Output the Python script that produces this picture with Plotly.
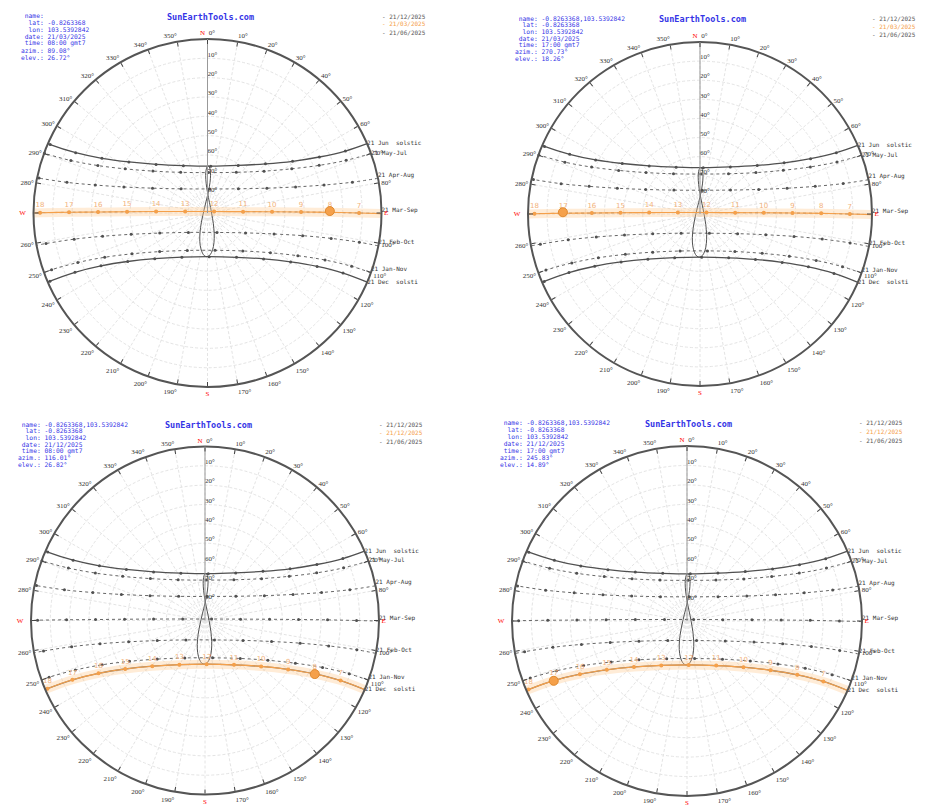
import plotly.graph_objects as go

# ---------------- data (azimuth °, elevation °) ----------------
HOURS = [7, 8, 9, 10, 11, 12, 13, 14, 15, 16, 17, 18]

jun_rise, jun_set = 66.5, 293.5
jun_az = [65.8, 63.4, 58.7, 49.7, 32.8, 4.0, 333.0, 313.4, 303.0, 297.4, 294.6, 293.5]
jun_el = [11.8, 25.3, 38.5, 50.7, 60.7, 65.7, 62.5, 53.4, 41.5, 28.5, 15.0, 1.3]

may_rise, may_set = 70.0, 290.1
may_az = [69.2, 66.9, 62.3, 53.5, 35.3, 1.4, 326.6, 307.5, 298.2, 293.4, 291.0, 290.1]
may_el = [13.3, 27.2, 40.8, 53.6, 64.2, 69.1, 64.8, 54.4, 41.7, 28.2, 14.3, 0.2]

apr_rise, apr_set = 78.5, 281.7
apr_az = [78.0, 76.5, 73.5, 67.3, 51.9, 5.3, 312.5, 294.3, 287.3, 284.0, 282.3, 281.7]
apr_el = [13.4, 28.0, 42.5, 56.7, 69.7, 77.5, 71.5, 58.8, 44.7, 30.2, 15.6, 1.0]

mar_rise, mar_set = 90.2, 270.0
mar_az = [90.0, 89.7, 89.4, 88.9, 87.8, 77.5, 273.8, 271.6, 270.9, 270.5, 270.3, 270.1]
mar_el = [11.6, 26.6, 41.6, 56.6, 71.6, 86.5, 78.4, 63.4, 48.4, 33.4, 18.4, 3.4]

feb_rise, feb_set = 100.9, 259.3
feb_az = [100.9, 101.6, 103.4, 107.5, 117.6, 154.0, 224.6, 247.2, 254.4, 257.5, 258.9, 259.3]
feb_el = [10.0, 24.7, 39.4, 53.9, 67.8, 78.8, 75.9, 63.2, 49.0, 34.4, 19.7, 5.0]

jan_rise, jan_set = 110.1, 250.0
jan_az = [110.3, 111.8, 115.3, 122.3, 137.1, 168.5, 208.3, 231.1, 241.6, 246.7, 249.1, 250.0]
jan_el = [10.5, 24.5, 38.3, 51.5, 63.2, 70.3, 68.0, 58.2, 45.6, 32.1, 18.2, 4.2]

dec_rise, dec_set = 113.4, 246.6
dec_az = [113.9, 116.0, 120.5, 129.3, 146.8, 177.8, 210.1, 229.1, 238.7, 243.6, 245.9, 246.6]
dec_el = [13.3, 26.9, 40.1, 52.5, 62.6, 67.4, 63.6, 53.9, 41.7, 28.5, 14.9, 1.2]

# analemma (mean local noon, weekly)
ana_az = [178.2, 176.3, 174.3, 172.2, 170.0, 167.7, 165.2, 162.1, 158.0, 151.3, 136.9, 90.8, 29.9, 10.5,
          3.4, 360.0, 358.2, 357.4, 357.1, 357.2, 357.5, 358.1, 358.8, 359.5, 0.4, 1.2, 2.1, 2.9, 3.6,
          4.2, 4.6, 4.8, 4.7, 4.0, 2.5, 359.5, 353.5, 338.4, 288.9, 232.0, 213.6, 205.8, 201.2, 197.9,
          195.2, 192.8, 190.5, 188.4, 186.4, 184.4, 182.4, 180.5, 178.5]
ana_el = [67.8, 68.4, 69.4, 70.8, 72.4, 74.3, 76.4, 78.7, 81.2, 83.7, 86.2, 87.9, 86.8, 84.5, 81.9,
          79.3, 76.9, 74.6, 72.6, 70.7, 69.1, 67.8, 66.8, 66.1, 65.8, 65.7, 66.0, 66.7, 67.6, 68.9,
          70.4, 72.2, 74.2, 76.4, 78.8, 81.3, 83.9, 86.3, 87.9, 86.7, 84.3, 81.8, 79.3, 77.0, 74.8,
          72.9, 71.2, 69.8, 68.7, 67.9, 67.5, 67.4, 67.7]

elev_ticks = [10, 20, 30, 40, 50, 60, 70, 80]

path_names = ["jun", "may", "apr", "mar", "feb", "jan", "dec"]
path_labels = ["21 Jun  solstic", "21 May-Jul", "21 Apr-Aug", "21 Mar-Sep", "21 Feb-Oct",
               "21 Jan-Nov", "21 Dec  solsti"]
path_data = {
    "jun": (jun_rise, jun_set, jun_az, jun_el), "may": (may_rise, may_set, may_az, may_el),
    "apr": (apr_rise, apr_set, apr_az, apr_el), "mar": (mar_rise, mar_set, mar_az, mar_el),
    "feb": (feb_rise, feb_set, feb_az, feb_el), "jan": (jan_rise, jan_set, jan_az, jan_el),
    "dec": (dec_rise, dec_set, dec_az, dec_el),
}

# the four views: highlighted date, current sun position, info text
panel_dates = ["21/03/2025", "21/03/2025", "21/12/2025", "21/12/2025"]
panel_paths = ["mar", "mar", "dec", "dec"]
panel_names = ["", "-0.8263368,103.5392842", "-0.8263368,103.5392842", "-0.8263368,103.5392842"]
panel_times = ["08:00 gmt7", "17:00 gmt7", "08:00 gmt7", "17:00 gmt7"]
panel_azim = [89.08, 270.73, 116.01, 245.83]
panel_elev = [26.72, 18.26, 26.82, 14.89]
legend_dates = [["21/12/2025", "21/03/2025", "21/06/2025"], ["21/12/2025", "21/03/2025", "21/06/2025"],
                ["21/12/2025", "21/12/2025", "21/06/2025"], ["21/12/2025", "21/12/2025", "21/06/2025"]]
LAT_TXT, LON_TXT = "-0.8263368", "103.5392842"

# ---------------- layout geometry (window pixels) ----------------
OFF = 8                       # page body margin
FW, FH = 930 - OFF, 807 - OFF
geo = [(207.5, 213, 174), (700, 214, 172), (205, 620.5, 174), (687, 621, 175)]
info_pos = [(19, 15, 7.0), (513, 18, 6.7), (16, 424, 6.8), (498, 423, 7.0)]
title_pos = [(210, 17), (702, 19), (208, 425), (688, 424)]
legend_pos = [(380, 16, 8), (870, 18, 8.5), (377, 424, 8.5), (857, 423, 8.5)]
label_pos = ["middle right", "middle right", "top right", "top right", "top right", "top right", "middle right"]

DARK = "#505050"
DOT = "#666666"
ORANGE = "#f5a04a"
BLUE = "#3434e6"
GRID = "#e4e4e4"


def px(x):
    return (x - OFF) / FW


def py(y):
    return 1 - (y - OFF) / FH


fig = go.Figure()
annotations = []

for i in range(4):
    sp = "polar" if i == 0 else f"polar{i + 1}"
    cx, cy, R = geo[i]
    # elevation labels along the north radius
    fig.add_trace(go.Scatterpolar(
        theta=[0] * len(elev_ticks), r=elev_ticks, mode="text", subplot=sp, showlegend=False,
        hoverinfo="skip", text=[f"{v}°" for v in elev_ticks], textposition="top right",
        textfont=dict(family="Liberation Serif", size=7, color="#333")))
    # sun paths
    for k, name in enumerate(path_names):
        rise, sett, az, el = path_data[name]
        th = [rise] + az + [sett]
        rr = [0] + el + [0]
        solid = name in ("jun", "dec")
        fig.add_trace(go.Scatterpolar(
            theta=th, r=rr, mode="lines", subplot=sp, showlegend=False, hoverinfo="skip",
            line=dict(color=DARK if solid else DOT, width=1.3 if solid else 1,
                      dash="solid" if solid else "dot", shape="spline")))
        fig.add_trace(go.Scatterpolar(
            theta=az, r=el, mode="markers", subplot=sp, showlegend=False, hoverinfo="skip",
            marker=dict(color=DARK, size=3)))
        fig.add_trace(go.Scatterpolar(
            theta=[rise], r=[0], mode="text", subplot=sp, showlegend=False, hoverinfo="skip",
            text=[path_labels[k]], textposition=label_pos[k], cliponaxis=False,
            textfont=dict(family="DejaVu Sans Mono", size=6, color="#333")))
    # analemma
    fig.add_trace(go.Scatterpolar(
        theta=ana_az, r=ana_el, mode="lines", subplot=sp, showlegend=False, hoverinfo="skip",
        line=dict(color=DARK, width=1, shape="spline")))
    # highlighted day
    rise, sett, az, el = path_data[panel_paths[i]]
    th = [rise] + az + [sett]
    rr = [0] + el + [0]
    fig.add_trace(go.Scatterpolar(
        theta=th, r=rr, mode="lines", subplot=sp, showlegend=False, hoverinfo="skip",
        line=dict(color="rgba(255,200,140,0.35)", width=9, shape="spline")))
    fig.add_trace(go.Scatterpolar(
        theta=th, r=rr, mode="lines", subplot=sp, showlegend=False, hoverinfo="skip",
        line=dict(color=ORANGE, width=1.1, shape="spline")))
    fig.add_trace(go.Scatterpolar(
        theta=az, r=el, mode="markers+text", subplot=sp, showlegend=False, hoverinfo="skip",
        marker=dict(color=ORANGE, size=4), text=[str(h) for h in HOURS], textposition="top center",
        textfont=dict(family="DejaVu Sans", size=7, color="#f2b27a")))
    fig.add_trace(go.Scatterpolar(
        theta=[panel_azim[i]], r=[panel_elev[i]], mode="markers", subplot=sp, showlegend=False,
        hoverinfo="skip", marker=dict(color=ORANGE, size=9, line=dict(color="#e08a30", width=1))))

    ticktext = []
    for a in range(0, 360, 10):
        if a == 0:
            ticktext.append("<span style='color:red'>N</span>  0°")
        elif a == 90:
            ticktext.append("<span style='color:red'>E</span>")
        elif a == 180:
            ticktext.append("<span style='color:red'>S</span>")
        elif a == 270:
            ticktext.append("<span style='color:red'>W</span>\u00a0\u00a0\u00a0")
        else:
            ticktext.append(f"{a}°")
    fig.update_layout(**{sp: dict(
        domain=dict(x=[px(cx - R), px(cx + R)], y=[py(cy + R), py(cy - R)]),
        bgcolor="white",
        angularaxis=dict(direction="clockwise", rotation=90, tickmode="array",
                         tickvals=list(range(0, 360, 10)), ticktext=ticktext,
                         ticks="inside", ticklen=4, tickcolor="#444", showline=True,
                         linecolor="#555", linewidth=2, gridcolor=GRID, griddash="3px,2px",
                         tickfont=dict(size=7, color="#333", family="Liberation Serif")),
        radialaxis=dict(angle=90, range=[90, 0], tickmode="array", tickvals=elev_ticks,
                        showticklabels=False, showline=True, linecolor="#999", linewidth=1,
                        gridcolor=GRID, griddash="3px,2px", ticks=""))})

    # title
    tx, ty = title_pos[i]
    annotations.append(dict(x=px(tx), y=py(ty), xref="paper", yref="paper", showarrow=False,
                            text="<b>SunEarthTools.com</b>", xanchor="center", yanchor="middle",
                            font=dict(family="DejaVu Sans Mono", size=8.5, color=BLUE)))
    # info block
    ix, iy, dy = info_pos[i]
    lines = [(" name:", panel_names[i]), ("  lat:", LAT_TXT), ("  lon:", LON_TXT),
             (" date:", panel_dates[i]), (" time:", panel_times[i]),
             ("azim.:", f"{panel_azim[i]:.2f}°"), ("elev.:", f"{panel_elev[i]:.2f}°")]
    for j, (lab, val) in enumerate(lines):
        annotations.append(dict(x=px(ix), y=py(iy + dy * j), xref="paper", yref="paper",
                                showarrow=False, xanchor="left", yanchor="middle",
                                text=(lab + " " + val).replace(" ", "\u00a0"),
                                font=dict(family="DejaVu Sans Mono", size=6.3, color=BLUE)))
    # legend block
    lx, ly, ldy = legend_pos[i]
    cols = ["#555", ORANGE, "#555"]
    for j, d in enumerate(legend_dates[i]):
        annotations.append(dict(x=px(lx), y=py(ly + ldy * j), xref="paper", yref="paper",
                                showarrow=False, xanchor="left", yanchor="middle",
                                text="-\u00a0" + d,
                                font=dict(family="DejaVu Sans Mono", size=6, color=cols[j])))

fig.update_layout(width=FW, height=FH, margin=dict(l=0, r=0, t=0, b=0), paper_bgcolor="white",
                  annotations=annotations)
fig.write_html("out.html")
